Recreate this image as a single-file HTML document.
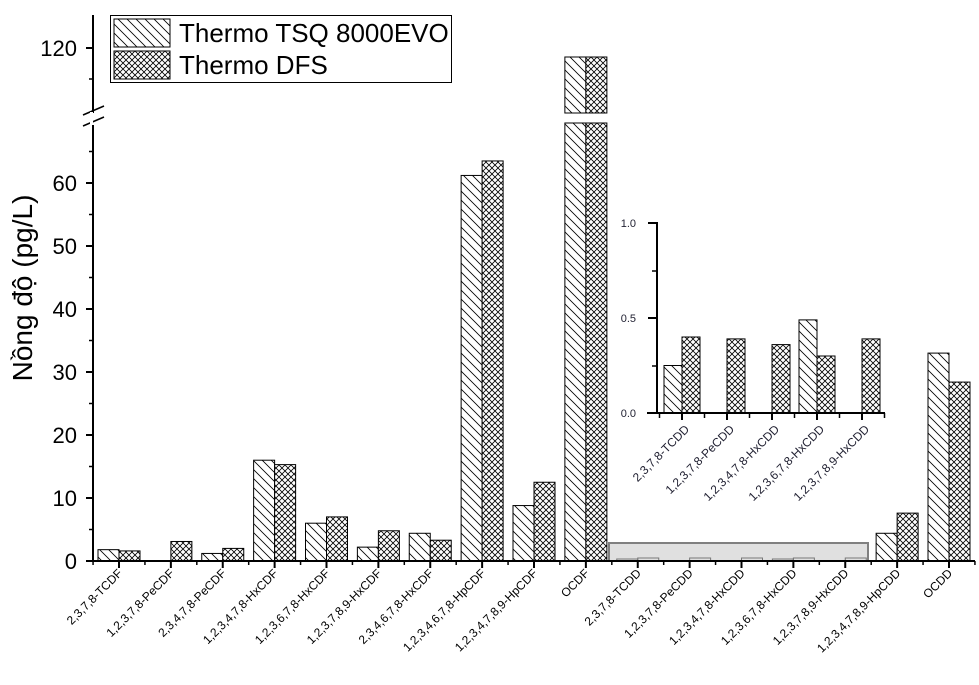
<!DOCTYPE html>
<html><head><meta charset="utf-8"><style>
body{margin:0;background:#fff}
svg{display:block;font-family:"Liberation Sans",Arial,sans-serif}
</style></head><body>
<svg id="s" width="979" height="685" viewBox="0 0 979 685" xmlns="http://www.w3.org/2000/svg">
<defs>
<pattern id="d" width="9" height="9" patternUnits="userSpaceOnUse">
<rect width="9" height="9" fill="#fff"/><path d="M-1,-1 L10,10 M-1,8 L1,10 M8,-1 L10,1" stroke="#000" stroke-width="0.8"/>
</pattern>
<pattern id="x" width="6" height="6" patternUnits="userSpaceOnUse">
<rect width="6" height="6" fill="#fff"/><path d="M0,0 L6,6 M6,0 L0,6" stroke="#000" stroke-width="0.8"/>
</pattern>
</defs>
<g id="g"></g>
</svg>
<script>
var g=document.getElementById('g'),h='';
function L(x1,y1,x2,y2,w,c){h+='<line x1="'+x1+'" y1="'+y1+'" x2="'+x2+'" y2="'+y2+'" stroke="'+(c||'#000')+'" stroke-width="'+(w||1)+'"/>';}
function R(x,y,w,hh,f){h+='<rect x="'+x+'" y="'+y+'" width="'+w+'" height="'+hh+'" fill="url(#'+f+')" stroke="#000" stroke-width="1"/>';}
function T(x,y,t,s,a,rot,c){h+='<text x="'+x+'" y="'+y+'" font-size="'+s+'" text-anchor="'+(a||'start')+'"'+(rot?' transform="rotate('+rot+' '+x+' '+y+')"':'')+' fill="'+(c||'#000')+'">'+t+'</text>';}
function yl(v){return 561-6.3*v;}
var cats=["2,3,7,8-TCDF","1,2,3,7,8-PeCDF","2,3,4,7,8-PeCDF","1,2,3,4,7,8-HxCDF","1,2,3,6,7,8-HxCDF","1,2,3,7,8,9-HxCDF","2,3,4,6,7,8-HxCDF","1,2,3,4,6,7,8-HpCDF","1,2,3,4,7,8,9-HpCDF","OCDF","2,3,7,8-TCDD","1,2,3,7,8-PeCDD","1,2,3,4,7,8-HxCDD","1,2,3,6,7,8-HxCDD","1,2,3,7,8,9-HxCDD","1,2,3,4,7,8,9-HpCDD","OCDD"];
var a=[1.8,0,1.2,16,6,2.2,4.4,61.2,8.8,118.5,0.25,0,0,0.49,0,4.4,33];
var b=[1.6,3.1,2.0,15.3,7,4.8,3.3,63.5,12.5,118.5,0.4,0.39,0.36,0.3,0.39,7.6,28.4];
var sp=51.875,x0=119;
h+='<rect x="609" y="543" width="259" height="18" fill="#e0e0e0" stroke="#808080" stroke-width="2"/>';
for(var i=0;i<17;i++){
 var c=x0+i*sp;
 if(i==9){
  R(c-21,123,21,438,'d');R(c,123,21,438,'x');
  R(c-21,57,21,56,'d');R(c,57,21,56,'x');
 } else if(i>=10&&i<=14){
  if(a[i]>0)h+='<rect x="'+(c-21)+'" y="559" width="21" height="2" fill="none" stroke="#777" stroke-width="1"/>';
  h+='<rect x="'+c+'" y="558" width="21" height="3" fill="none" stroke="#777" stroke-width="1"/>';
 } else {
  if(a[i]>0)R(c-21,yl(a[i]),21,6.3*a[i],'d');
  if(b[i]>0)R(c,yl(b[i]),21,6.3*b[i],'x');
 }
 L(c,561,c,568,2);
 L(c+sp/2,561,c+sp/2,565,1.5);
 T(c+4,574,cats[i],12,'end',-45);
}
L(x0-sp/2,561,x0-sp/2,565,1.5);
// axes
L(92,561,975,561,2);
L(93,125,93,562,2);
L(93,15,93,113,2);
for(var v=0;v<=60;v+=10){L(86,yl(v),93,yl(v),2);T(77,yl(v)+8,v,22,'end');}
for(var v=5;v<=65;v+=10)L(89,yl(v),93,yl(v),1.5);
L(86,48,93,48,2);T(77,56,'120',22,'end');L(89,79,93,79,1.5);
L(83,115,104,106,1.5);L(83,126,104,117,1.5);
h+='<rect x="90" y="112" width="3" height="12" fill="#fff"/>';
T(32,288,'Nồng độ (pg/L)',28,'middle',-90);
// legend
h+='<rect x="110.5" y="15.5" width="341" height="67" fill="#fff" stroke="#000" stroke-width="1"/>';
R(114,19,56,28,'d');R(114,51,56,28,'x');
T(179,42,'Thermo TSQ 8000EVO',26);T(179,74,'Thermo DFS',26);
// inset
var iy=function(v){return 413-190*v;};
var it=[682,727,772,817,862];
var ia=[0.25,0,0,0.49,0],ib=[0.4,0.39,0.36,0.3,0.39];
var il=["2,3,7,8-TCDD","1,2,3,7,8-PeCDD","1,2,3,4,7,8-HxCDD","1,2,3,6,7,8-HxCDD","1,2,3,7,8,9-HxCDD"];
for(var i=0;i<5;i++){
 if(ia[i]>0)R(it[i]-18,iy(ia[i]),18,190*ia[i],'d');
 R(it[i],iy(ib[i]),18,190*ib[i],'x');
 L(it[i],413,it[i],420,2);L(it[i]-22.5,413,it[i]-22.5,418,1.5);
 T(it[i]+8,430,il[i],12,'end',-45,'#223');
}
L(884.5,413,884.5,418,1.5);
L(647,413,885,413,2);L(657,222,657,414,2);
for(var v=0;v<=1;v+=0.5){L(648,iy(v),657,iy(v),2);T(636,iy(v)+4,v.toFixed(1),11,'end',0,'#223');}
L(652,366,657,366,1.5);L(652,271,657,271,1.5);
g.innerHTML=h;
</script>
</body></html>
